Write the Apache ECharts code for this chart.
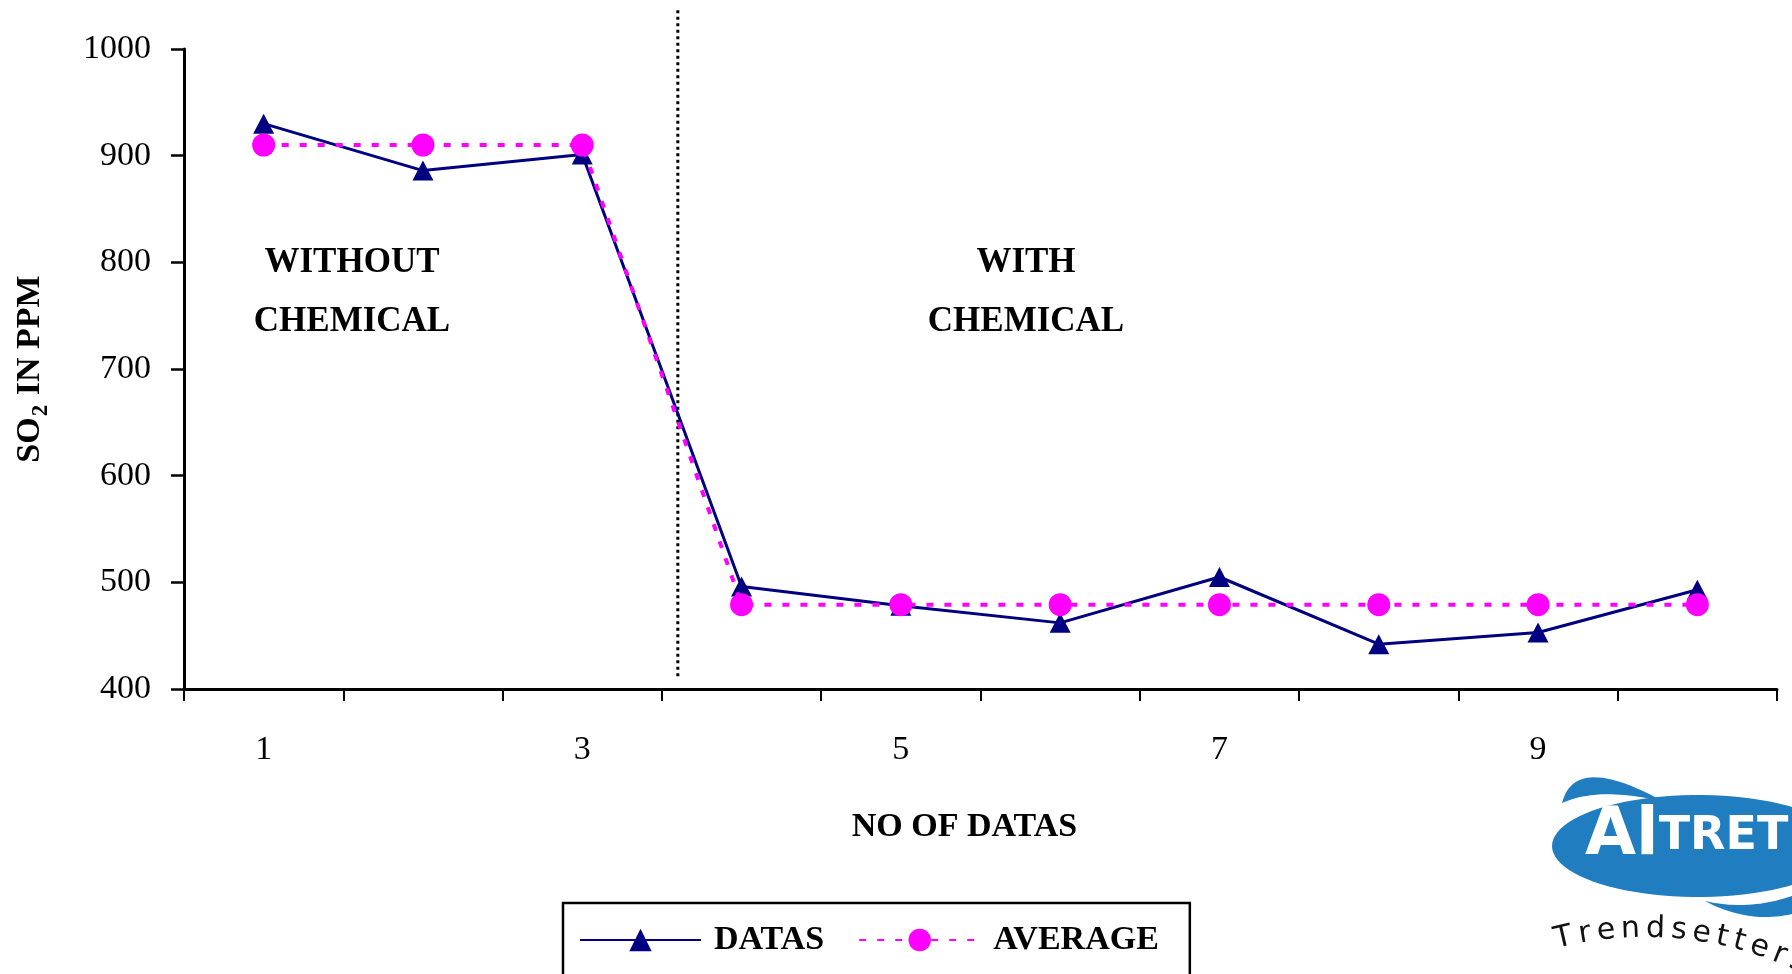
<!DOCTYPE html>
<html>
<head>
<meta charset="utf-8">
<script src="https://cdn.jsdelivr.net/npm/echarts@6/dist/echarts.min.js"></script>
<style>
  html, body { margin: 0; padding: 0; background: #fff; }
  #chart { width: 1792px; height: 974px; }
</style>
</head>
<body>
<div id="chart"></div>
<script>
// data
const categories = ['1', '2', '3', '4', '5', '6', '7', '8', '9', '10'];
const datas = [930, 886, 901, 496, 478, 462, 505, 442, 453, 493];
const average = [910, 910, 910, 479, 479, 479, 479, 479, 479, 479];
const yMin = 400;
const yMax = 1000;
const yStep = 100;
// dotted separator between the two phases (x in category-band units)
const dividerX = 3.1;
const dividerSpan = [412, 1037];

const serif = '"Liberation Serif", "DejaVu Serif", serif';
const ink = '#000';
const navy = '#000080';
const magenta = '#ff00ff';
const logoBlue = '#1f7dc0';

const chart = echarts.init(document.getElementById('chart'));

// logo helpers
function quad(p0, c, p1, n) {
  const pts = [];
  for (let i = 0; i <= n; i++) {
    const t = i / n, u = 1 - t;
    pts.push([u * u * p0[0] + 2 * u * t * c[0] + t * t * p1[0],
              u * u * p0[1] + 2 * u * t * c[1] + t * t * p1[1]]);
  }
  return pts;
}
function ellipsePts(cx, cy, rx, ry, n) {
  const pts = [];
  for (let i = 0; i < n; i++) {
    const t = (i / n) * Math.PI * 2;
    pts.push([cx + rx * Math.cos(t), cy + ry * Math.sin(t)]);
  }
  return pts;
}
function arcLetters(word, cx, cy, r, startX, sizes) {
  const out = [];
  let s = Math.asin((startX - cx) / r) * r;
  for (let i = 0; i < word.length; i++) {
    const w = sizes[i];
    const th = (s + w / 2) / r;
    out.push({
      type: 'text',
      x: cx + r * Math.sin(th),
      y: cy - r * Math.cos(th),
      rotation: -th,
      style: {
        text: word[i], fill: '#111', font: '30px "DejaVu Sans", sans-serif',
        align: 'center', verticalAlign: 'bottom'
      }
    });
    s += w + 6;
  }
  return out;
}

const logo = [
  {
    type: 'polygon',
    shape: { points: quad([1562, 803], [1575, 752], [1664, 802], 24).concat(quad([1664, 802], [1600, 786], [1562, 803], 24)) },
    style: { fill: logoBlue }
  },
  {
    type: 'polygon',
    shape: { points: ellipsePts(1698, 846, 146, 51, 90) },
    style: { fill: logoBlue }
  },
  {
    type: 'polygon',
    shape: { points: quad([1705, 901], [1752, 926], [1800, 912], 24).concat(quad([1800, 893], [1752, 912], [1705, 901], 24)) },
    style: { fill: logoBlue }
  },
  {
    type: 'text',
    x: 1585, y: 870,
    style: {
      text: '{a|Al}{b|TRET}',
      verticalAlign: 'bottom',
      rich: {
        a: { fontSize: 66, fontWeight: 'bold', fontFamily: '"DejaVu Sans", sans-serif', fill: '#fff' },
        b: { fontSize: 46, fontWeight: 'bold', fontFamily: '"DejaVu Sans", sans-serif', fill: '#fff' }
      }
    }
  }
].concat(arcLetters('Trendsetters', 1645, 1294, 350, 1558,
  [18, 12, 17, 18, 18, 15, 17, 11, 11, 17, 12, 15]));

chart.setOption({
  backgroundColor: '#fff',
  animation: false,
  textStyle: { fontFamily: serif },
  grid: { left: 184, right: 15, top: 49, bottom: 285 },
  legend: {
    data: ['DATAS', 'AVERAGE'],
    left: 563,
    top: 903,
    padding: [20, 31, 24, 16],
    itemWidth: 121,
    itemHeight: 28,
    itemGap: 34,
    borderColor: ink,
    borderWidth: 2.5,
    backgroundColor: '#fff',
    textStyle: {
      color: ink, fontSize: 34, fontWeight: 'bold', fontFamily: serif,
      padding: [0, 0, 0, 8]
    }
  },
  xAxis: [
    {
      type: 'category',
      data: categories,
      boundaryGap: true,
      name: 'NO OF DATAS',
      nameLocation: 'middle',
      nameGap: 121,
      nameTextStyle: {
        color: ink, fontSize: 34, fontWeight: 'bold', fontFamily: serif,
        padding: [0, 32, 0, 0]
      },
      axisLine: { show: true, lineStyle: { color: ink, width: 3 } },
      axisTick: { show: true, interval: 0, alignWithLabel: false, length: 12, lineStyle: { color: ink, width: 2 } },
      axisLabel: { interval: 1, margin: 44, color: ink, fontSize: 34, fontFamily: serif },
      splitLine: { show: false }
    },
    {
      type: 'value',
      min: 0,
      max: categories.length,
      show: false
    }
  ],
  yAxis: {
    type: 'value',
    min: yMin,
    max: yMax,
    interval: yStep,
    name: '{a|SO}{s|2}{a| IN PPM}',
    nameLocation: 'middle',
    nameGap: 137,
    nameRotate: 90,
    nameTextStyle: {
      rich: {
        a: { fontSize: 34, fontWeight: 'bold', fontFamily: serif, color: ink, lineHeight: 40, verticalAlign: 'bottom' },
        s: { fontSize: 23, fontWeight: 'bold', fontFamily: serif, color: ink, lineHeight: 40, verticalAlign: 'bottom', padding: [0, 1, -6, 1] }
      }
    },
    axisLine: { show: true, lineStyle: { color: ink, width: 3 } },
    axisTick: { show: true, length: 13, lineStyle: { color: ink, width: 2.5 } },
    axisLabel: { margin: 33, color: ink, fontSize: 34, fontFamily: serif, formatter: v => String(v) },
    splitLine: { show: false }
  },
  graphic: [
    {
      type: 'text', x: 352, y: 292,
      style: {
        text: 'WITHOUT\nCHEMICAL', align: 'center', verticalAlign: 'middle',
        font: 'bold 35px ' + serif, fill: ink, lineHeight: 59
      }
    },
    {
      type: 'text', x: 1026, y: 292,
      style: {
        text: 'WITH\nCHEMICAL', align: 'center', verticalAlign: 'middle',
        font: 'bold 35px ' + serif, fill: ink, lineHeight: 59
      }
    }
  ].concat(logo),
  series: [
    {
      name: 'divider',
      type: 'line',
      xAxisIndex: 1,
      data: dividerSpan.map(v => [dividerX, v]),
      clip: false,
      silent: true,
      symbol: 'none',
      lineStyle: { color: ink, width: 3, type: [3, 3.5] },
      z: 1
    },
    {
      name: 'DATAS',
      type: 'line',
      data: datas,
      symbol: 'triangle',
      symbolSize: [21, 20],
      itemStyle: { color: navy },
      lineStyle: { color: navy, width: 3 },
      z: 3
    },
    {
      name: 'AVERAGE',
      type: 'line',
      data: average,
      symbol: 'circle',
      symbolSize: 23,
      itemStyle: { color: magenta },
      lineStyle: { color: magenta, width: 4, type: [7, 11] },
      z: 4
    }
  ]
});
</script>
</body>
</html>
